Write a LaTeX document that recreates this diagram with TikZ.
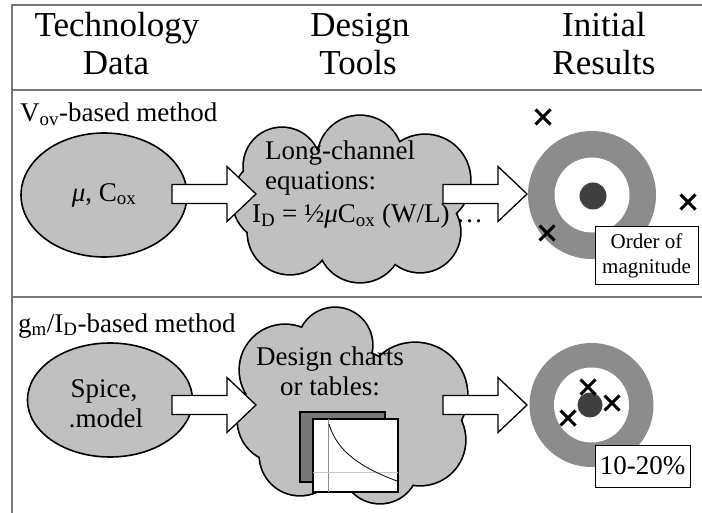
\documentclass[tikz,border=0pt]{standalone}
\usepackage{fontspec}
\setmainfont{Liberation Serif}
\usetikzlibrary{shapes.geometric}
\definecolor{blobgray}{HTML}{C0C0C0}
\definecolor{ringgray}{HTML}{8C8C8C}
\definecolor{dotgray}{HTML}{3F3F3F}
\definecolor{sheetgray}{HTML}{777777}
\definecolor{rulegray}{HTML}{777777}
\newcommand\hdrfont{\fontsize{35}{38}\selectfont}
\newcommand\txtfont{\fontsize{27}{30}\selectfont}
\newcommand\tagfont{\fontsize{21}{25}\selectfont}
% cloud = union of discs: thick black strokes first, grey fills on top
\newcommand\puffcloud[1]{%
  \foreach \cx/\cy/\r in {#1} {\draw[line width=3.4] (\cx,\cy) circle (\r pt);}%
  \foreach \cx/\cy/\r in {#1} {\fill[blobgray] (\cx,\cy) circle (\r pt);}}
\begin{document}
\begin{tikzpicture}[x=1pt,y=-1pt,
  frameline/.style={draw=rulegray, line width=2},
  blob/.style={ellipse, draw=black, line width=1.6, fill=blobgray, inner sep=0pt},
  hdr/.style={anchor=base, inner sep=0pt, font=\hdrfont},
  txt/.style={inner sep=0pt, font=\txtfont},
  tag/.style={draw=black, line width=1, fill=white, inner sep=0pt, align=center},
  ring/.style={circle, fill=ringgray, inner sep=0pt, minimum size=#1},
  hole/.style={circle, fill=white, inner sep=0pt, minimum size=#1},
  bullseye/.style={circle, fill=dotgray, inner sep=0pt, minimum size=#1},
  barrow/.pic={\draw[line width=1.3, fill=white, line join=miter]
     (0,-9.5) -- (55,-9.5) -- (55,-27.5) -- (84,0) -- (55,27.5) -- (55,9.5) -- (0,9.5) -- cycle;},
  miss/.pic={\draw[line width=3] (-7.5,-7.5) -- (7.5,7.5) (-7.5,7.5) -- (7.5,-7.5);}
]
\useasboundingbox (0,0) rectangle (702,513);

% table rules
\coordinate (tl) at (12,5);
\coordinate (tr) at (702,5);
\coordinate (bl) at (12,513);
\coordinate (h1) at (12,90);
\coordinate (h2) at (702,90);
\coordinate (m1) at (12,297);
\coordinate (m2) at (702,297);
\draw[frameline] (tr) -- (tl) -- (bl);
\draw[frameline] (h1) -- (h2);
\draw[frameline] (m1) -- (m2);

% column headings
\node[hdr] (c1a) at (117,37) {Technology};
\node[hdr] (c1b) at (116,75) {Data};
\node[hdr] (c2a) at (360,37) {Design};
\node[hdr] (c2b) at (358,75) {Tools};
\node[hdr] (c3a) at (604,37) {Initial};
\node[hdr] (c3b) at (604,75) {Results};

% ---------- upper row ----------
\node[txt, anchor=base west] (m1lab) at (20,122) {V\textsubscript{ov}-based method};
\node[blob, minimum width=166, minimum height=124, font=\txtfont] (data1) at (104,195)
  {\itshape μ\upshape, C\textsubscript{ox}};

\puffcloud{282/166/38, 360/158/42, 425/180/45, 420/232/40, 360/240/42, 290/232/42, 275/200/42, 352/200/60}
\node[txt, anchor=base west] (eq1) at (265,160) {Long-channel};
\node[txt, anchor=base west] (eq2) at (265,190) {equations:};
\node[txt, anchor=base west] (eq3) at (252,223)
  {I\textsubscript{D} = ½\textit{μ}C\textsubscript{ox} (W/L) …};

\coordinate (a1) at (172,194);
\coordinate (a2) at (443,194);
\pic at (a1) {barrow};
\pic at (a2) {barrow};

\node[ring=128] (t1) at (592,195) {};
\node[hole=75] (t1h) at (t1) {};
\node[bullseye=27] (t1d) at (593,196) {};
\coordinate (x1) at (543,117);
\coordinate (x2) at (688,202);
\coordinate (x3) at (547,233);
\pic at (x1) {miss};
\pic at (x2) {miss};
\pic at (x3) {miss};
\node[tag, minimum width=103, minimum height=58, font=\tagfont] (r1) at (646.5,256)
  {Order of\\magnitude};

% ---------- lower row ----------
\node[txt, anchor=base west] (m2lab) at (18,332) {g\textsubscript{m}/I\textsubscript{D}-based method};
\node[blob, minimum width=165, minimum height=114] (data2) at (110,400) {};
\node[txt, anchor=base] (sp1) at (104,397) {Spice,};
\node[txt, anchor=base] (sp2) at (106,427) {.model};

\puffcloud{335/345/37, 285/370/45, 415/395/52, 420/440/45, 380/465/38, 300/455/40, 280/420/42, 350/410/60}
\node[txt, anchor=base] (dc1) at (330,365) {Design charts};
\node[txt, anchor=base] (dc2) at (330,395) {or tables:};

% stacked chart sheets
\node[draw=black, line width=1.2, fill=sheetgray, minimum width=85, minimum height=70, inner sep=0pt] (s1) at (342.5,447) {};
\node[draw=black, line width=1.2, fill=white, minimum width=85, minimum height=73, inner sep=0pt] (s2) at (355.5,455.5) {};
\draw[black!45, line width=0.9] (328,419) -- (328,492);
\draw[black!22, line width=0.9] (313,472) -- (398,472);
\draw[line width=0.8] (329,424) .. controls (337,452) and (362,468) .. (397,481);

\coordinate (a3) at (172,405);
\coordinate (a4) at (443,405);
\pic at (a3) {barrow};
\pic at (a4) {barrow};

\node[ring=124] (t2) at (591.5,405) {};
\node[hole=75] (t2h) at (t2) {};
\node[bullseye=25] (t2d) at (590,405) {};
\coordinate (y1) at (588,387);
\coordinate (y2) at (612,403);
\coordinate (y3) at (568,418);
\pic at (y1) {miss};
\pic at (y2) {miss};
\pic at (y3) {miss};
\node[tag, minimum width=95, minimum height=42, font=\txtfont] (r2) at (642.5,466) {10-20\%};
\end{tikzpicture}
\end{document}
